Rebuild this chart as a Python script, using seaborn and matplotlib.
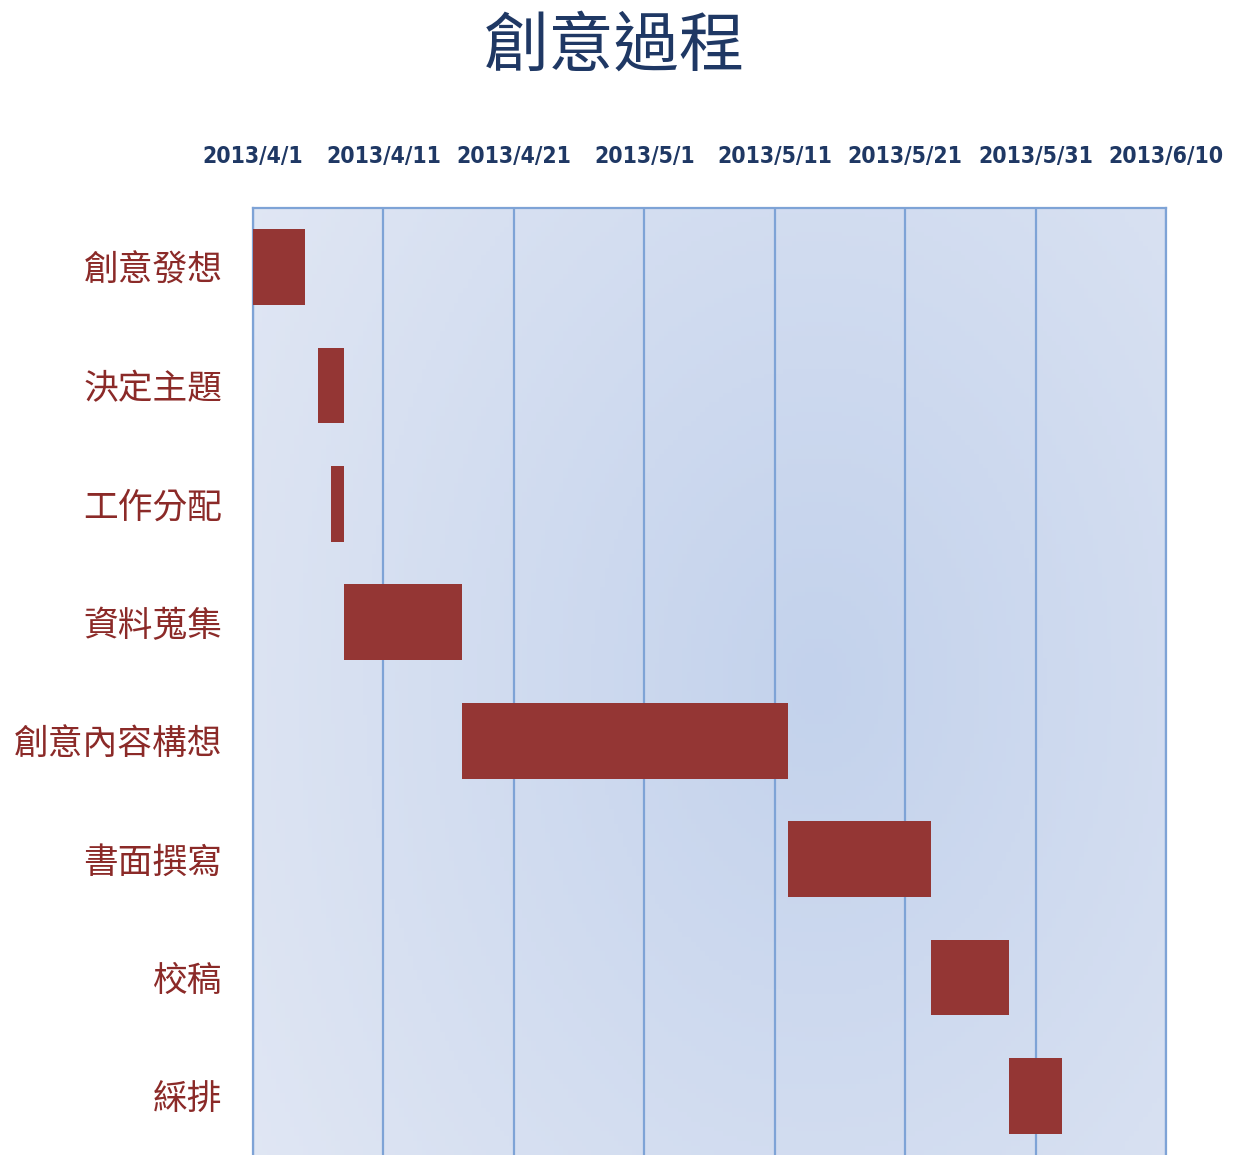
import numpy as np
import pandas as pd
import matplotlib
matplotlib.use("Agg")
import matplotlib.pyplot as plt
import seaborn as sns

tasks = ["創意發想", "決定主題", "工作分配", "資料蒐集", "創意內容構想", "書面撰寫", "校稿", "綵排"]
start_day = [0, 5, 6, 7, 16, 41, 52, 58]      # days after 2013/4/1
duration = [4, 2, 1, 9, 25, 11, 6, 4]
tick_days = [0, 10, 20, 30, 40, 50, 60, 70]
tick_labels = ["2013/4/1", "2013/4/11", "2013/4/21", "2013/5/1",
               "2013/5/11", "2013/5/21", "2013/5/31", "2013/6/10"]
title = "創意過程"

sns.set_theme(style="white")
plt.rcParams['font.family'] = ['Noto Sans CJK TC', 'DejaVu Sans']

df = pd.DataFrame({"task": tasks, "start": start_day, "dur": duration})

W, H = 1241, 1155
fig = plt.figure(figsize=(W / 100, H / 100), dpi=100)
ax = fig.add_axes([253 / W, 0.0, (1166 - 253) / W, (H - 208) / H])

# gradient background
nx, ny = 200, 200
xx, yy = np.meshgrid(np.linspace(0, 1, nx), np.linspace(0, 1, ny))
d = np.sqrt(((xx - 0.62) / 0.75) ** 2 + ((yy - 0.5) / 1.0) ** 2)
d = np.clip(d, 0, 1)
c_in = np.array([0xc3, 0xd2, 0xec]) / 255
c_out = np.array([0xe1, 0xe7, 0xf4]) / 255
img = c_in[None, None, :] * (1 - d[..., None]) + c_out[None, None, :] * d[..., None]
ax.imshow(img, extent=[0, 1, 0, 1], transform=ax.transAxes, aspect="auto", zorder=0)

sns.barplot(data=df, x="dur", y="task", left=df["start"], order=tasks,
            color="#943634", saturation=1, width=0.64, ax=ax, zorder=3,
            edgecolor="none")

ax.set_xlim(0, 70)
ax.set_ylim(len(tasks) - 0.5, -0.5)

grid_c = "#7ea3d6"
for t in tick_days:
    ax.axvline(t, color=grid_c, lw=1.6, zorder=2)
for s in ["top", "left", "right"]:
    ax.spines[s].set_visible(True)
    ax.spines[s].set_color(grid_c)
    ax.spines[s].set_linewidth(1.6)
ax.spines["bottom"].set_visible(False)

ax.xaxis.tick_top()
ax.set_xticks(tick_days)
ax.set_xticklabels(tick_labels, family=['DejaVu Sans'], fontstretch="condensed",
                   fontweight="bold", fontsize=16.5, color="#1f3864")
ax.tick_params(axis="x", length=0, pad=29)
ax.tick_params(axis="y", length=0, pad=22)
ax.set_yticks(range(len(tasks)))
ax.set_yticklabels(tasks, fontsize=25, color="#8b2a28")
ax.set_xlabel("")
ax.set_ylabel("")

fig.text(614 / W, 1 - 47 / H, title, ha="center", va="center",
         fontsize=47, color="#1f3864")

fig.savefig("out.png", dpi=100)
